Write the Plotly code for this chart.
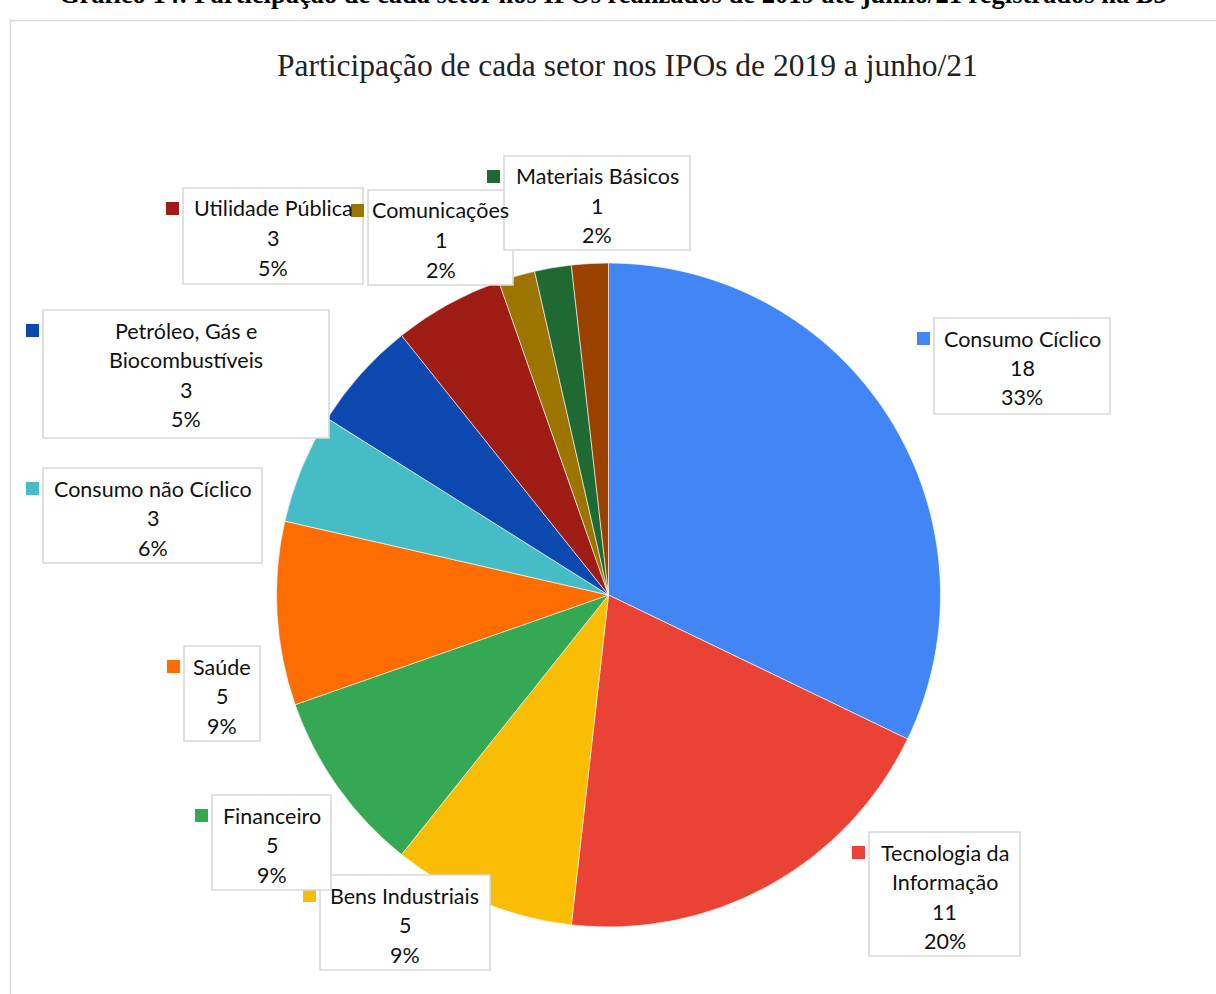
import plotly.graph_objects as go

# --- data -------------------------------------------------------------
setores = [
    "Consumo Cíclico", "Tecnologia da Informação", "Bens Industriais",
    "Financeiro", "Saúde", "Consumo não Cíclico",
    "Petróleo, Gás e Biocombustíveis", "Utilidade Pública",
    "Comunicações", "Materiais Básicos", "Outros",
]
ipos = [18, 11, 5, 5, 5, 3, 3, 3, 1, 1, 1]
percentuais = ["33%", "20%", "9%", "9%", "9%", "6%", "5%", "5%", "2%", "2%", ""]
cores = [
    "#4285F4", "#EA4335", "#FBBC04", "#34A853", "#FF6D01", "#46BDC6",
    "#0B49B0", "#9E1C13", "#9C7400", "#1E6A32", "#9A4100",
]

# --- page geometry (pixels) -------------------------------------------
W, H = 1216, 994
CX, CY, R = 608.5, 595, 332


def fx(x):
    return x / W


def fy(y):
    return 1 - y / H


# label boxes: (left, top, right, bottom, text lines of the name)
caixas = {
    "Consumo Cíclico": (934, 318, 1110, 414, ["Consumo Cíclico"]),
    "Tecnologia da Informação": (869, 832, 1020, 956, ["Tecnologia da", "Informação"]),
    "Bens Industriais": (320, 875, 490, 970, ["Bens Industriais"]),
    "Financeiro": (212, 795, 331, 890, ["Financeiro"]),
    "Saúde": (184, 646, 260, 741, ["Saúde"]),
    "Consumo não Cíclico": (43, 468, 262, 563, ["Consumo não Cíclico"]),
    "Petróleo, Gás e Biocombustíveis": (43, 310, 329, 438, ["Petróleo, Gás e", "Biocombustíveis"]),
    "Utilidade Pública": (183, 188, 363, 284, ["Utilidade Pública"]),
    "Comunicações": (368, 190, 513, 285, ["Comunicações"]),
    "Materiais Básicos": (504, 156, 690, 250, ["Materiais Básicos"]),
}

fig = go.Figure(
    go.Pie(
        labels=setores,
        values=ipos,
        sort=False,
        direction="clockwise",
        rotation=0,
        textinfo="none",
        hoverinfo="label+value",
        marker=dict(colors=cores, line=dict(color="white", width=0.6)),
        domain=dict(
            x=[fx(CX - R), fx(CX + R)],
            y=[fy(CY + R), fy(CY - R)],
        ),
        showlegend=False,
    )
)

shapes = []
annotations = []

# chart frame
shapes.append(dict(type="rect", xref="paper", yref="paper",
                   x0=fx(10.5), x1=fx(1240), y0=fy(1020), y1=fy(20.5),
                   line=dict(color="#d9d9d9", width=1.5), layer="below"))

LINE = 29.5
FONT = dict(family="Lato, 'Open Sans', sans-serif", size=21.5, color="#111111")

for nome, valor, pct, cor in zip(setores, ipos, percentuais, cores):
    if nome not in caixas:
        continue
    x0, y0, x1, y1, linhas = caixas[nome]
    shapes.append(dict(type="rect", xref="paper", yref="paper",
                       x0=fx(x0), x1=fx(x1), y0=fy(y1), y1=fy(y0),
                       fillcolor="white",
                       line=dict(color="#d9d9d9", width=1.6)))
    textos = linhas + [str(valor), pct]
    first = y0 + 20.5
    # legend key square next to the first line
    shapes.append(dict(type="rect", xref="paper", yref="paper",
                       x0=fx(x0 - 17), x1=fx(x0 - 4),
                       y0=fy(first + 6.5), y1=fy(first - 6.5),
                       fillcolor=cor, line=dict(width=0)))
    xc = (x0 + x1) / 2
    for i, t in enumerate(textos):
        annotations.append(dict(xref="paper", yref="paper",
                                x=fx(xc), y=fy(first + i * LINE),
                                text=t, showarrow=False, font=FONT,
                                xanchor="center", yanchor="middle"))

# caption above the chart frame
annotations.append(dict(
    xref="paper", yref="paper", x=fx(613), y=fy(-6),
    text="<b>Gráfico 14: Participação de cada setor nos IPOs realizados de 2019 até junho/21 registrados na B3</b>",
    showarrow=False, xanchor="center", yanchor="middle",
    font=dict(family="'Liberation Serif', 'Times New Roman', serif", size=26.5, color="black")))

# chart title
annotations.append(dict(
    xref="paper", yref="paper", x=fx(627), y=fy(65),
    text="Participação de cada setor nos IPOs de 2019 a junho/21",
    showarrow=False, xanchor="center", yanchor="middle",
    font=dict(family="'Liberation Serif', 'Times New Roman', serif", size=31.5, color="#222222")))

fig.update_layout(
    width=W, height=H,
    margin=dict(l=0, r=0, t=0, b=0),
    paper_bgcolor="white",
    plot_bgcolor="white",
    shapes=shapes,
    annotations=annotations,
)

fig.write_html("out.html")
